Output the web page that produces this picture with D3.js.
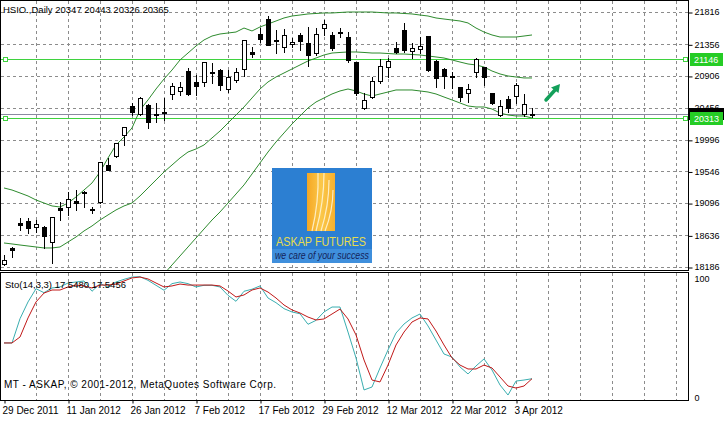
<!DOCTYPE html>
<html><head><meta charset="utf-8">
<script src="https://cdn.jsdelivr.net/npm/d3@7"></script>
<style>
body{margin:0;background:#fff}
svg{display:block}
text{font-family:"Liberation Sans",Arial,sans-serif}
</style></head>
<body><svg id="c" width="726" height="422"></svg>
<script>
// ---------- data ----------
const symbolTitle = "HSIO.,Daily  20347 20443 20326 20365";
const dateLabels = ["29 Dec 2011","11 Jan 2012","26 Jan 2012","7 Feb 2012","17 Feb 2012","29 Feb 2012","12 Mar 2012","22 Mar 2012","3 Apr 2012"];
const dateLabelBars = [0,8,16,24,32,40,48,56,64];
const priceTicks = [21816,21356,20906,20456,19996,19546,19096,18636,18186];
const openP = [18229,18457,18813,18841,18756,18756,18542,19026,19040,19126,19254,19012,19112,19638,19766,20065,20478,20364,20492,20364,20393,20649,20692,20976,20820,20820,20962,20990,20720,20848,21005,21247,21503,21716,21418,21318,21361,21489,21375,21232,21588,21489,21531,21460,21104,20450,20606,20834,21033,21304,21560,21261,21289,21474,21119,21005,20905,20749,20663,20962,21033,20663,20350,20578,20620,20364,20347];
const highP = [18357,18471,18884,18884,18855,18770,18898,19112,19254,19282,19268,19040,19681,19738,19951,20179,20521,20606,20507,20521,20592,20805,20820,21019,20919,21104,21090,21000,20990,21019,21418,21318,21588,21759,21560,21574,21446,21517,21603,21588,21702,21531,21588,21531,21110,20663,20891,21147,21161,21389,21660,21375,21460,21480,21133,21019,20962,20755,20791,21161,21040,20670,20564,20620,20805,20649,20443];
const lowP = [18215,18329,18713,18670,18685,18457,18243,18855,18927,18998,19040,18955,19100,19567,19752,19923,20350,20350,20165,20250,20279,20578,20635,20635,20635,20763,20805,20706,20677,20820,20905,21176,21389,21346,21232,21247,21318,21275,21047,21204,21489,21275,21460,21104,20635,20440,20592,20805,20891,21232,21247,21161,21232,20976,20749,20734,20734,20549,20535,20891,20777,20510,20336,20393,20521,20336,20326];
const closeP = [18286,18428,18784,18741,18798,18628,18898,18998,19154,19097,19240,18998,19681,19567,19951,20179,20393,20592,20250,20350,20378,20763,20749,20649,20763,21104,20948,20777,20891,20962,21418,21218,21432,21346,21403,21489,21389,21403,21204,21503,21645,21304,21517,21133,20663,20564,20834,21047,21119,21247,21275,21304,21332,20990,20877,20905,20891,20606,20720,21147,20891,20521,20478,20450,20777,20507,20365];
const bbUpper = [19311,19282,19240,19197,19140,19097,19055,19040,19097,19183,19282,19382,19539,19738,19923,20037,20165,20421,20564,20720,20862,20990,21133,21232,21332,21418,21474,21503,21517,21531,21588,21546,21603,21645,21688,21731,21759,21773,21788,21795,21802,21802,21809,21816,21816,21816,21816,21809,21802,21802,21795,21788,21773,21759,21731,21716,21702,21688,21660,21588,21531,21489,21460,21460,21460,21474,21489];
const bbMiddle = [18528,18514,18499,18485,18471,18457,18457,18471,18542,18613,18699,18770,18855,18927,18998,19055,19097,19197,19311,19425,19539,19638,19738,19823,19866,19923,20023,20122,20236,20350,20464,20592,20720,20820,20891,20948,21005,21062,21119,21161,21204,21232,21240,21247,21247,21240,21232,21232,21225,21218,21218,21211,21204,21190,21176,21161,21133,21104,21076,21062,21033,20976,20934,20905,20891,20877,20877];
const bbLower = [17745,17745,17759,17773,17802,17816,17859,17887,17944,17973,18001,18015,18015,18001,17987,17973,17959,17944,17973,18015,18087,18215,18343,18471,18599,18727,18855,18969,19097,19225,19354,19510,19667,19823,19966,20094,20222,20336,20450,20535,20592,20649,20692,20720,20692,20649,20620,20649,20677,20706,20706,20706,20692,20677,20649,20606,20564,20521,20478,20464,20464,20435,20378,20350,20336,20336,20307];
const stochMain = [45.7,45.7,64.8,78,88.4,85.3,89,89.8,92.9,93.7,94.5,86.4,92.4,89.8,93.7,95.8,97.6,97.9,95,91.1,87.2,92.4,93.7,92.4,89.8,91.1,91.1,89.8,83.2,78.5,86.4,88,90.6,81.1,77.4,72.7,70.1,68.7,60.4,63.5,70.1,74,74,54.3,33.9,8.7,11,26,40.2,53.5,60.6,65.4,68.5,59.1,48,37,34.6,26.8,21.3,27.6,33.1,24.4,12.6,4.7,15.7,16.5,17.548];
const stochSignal = [45.7,45.7,50.4,65.4,78,85,87.4,87.4,89.8,91.3,90.6,89,91.3,91.3,92.1,94.5,96.9,97.6,96.1,92.9,89.8,90.6,92.1,91.3,91.3,91.3,91.3,90.6,86.6,81.9,83.5,87.4,89,85.8,81.1,75.6,71.7,69.3,66.1,63.8,64.6,68.5,72.4,64.6,52,32.3,16.5,15,28.3,44.1,54.3,62.2,65.4,64.6,55.1,44.1,33.9,28.3,25.2,25.2,28.3,26,18.9,11.8,10.2,11.8,17.5456];
const stochLabel = "Sto(14,3,3) 17.5480 17.5456";
const stochTicks = [100, 0];
const hLevels = [21146, 20313];
const bidPrice = 20365;
const copyright = "MT - ASKAP, \u00A9 2001-2012, MetaQuotes Software Corp.";
const logoTitle = "ASKAP FUTURES";
const logoSlogan = "we care of your success";

// ---------- scales ----------
const n = closeP.length;
const x = d3.scaleLinear().domain([0, n - 1]).range([4, 532]);
const y = d3.scaleLinear().domain([18186, 21816]).range([267, 12]);
const ys = d3.scaleLinear().domain([0, 100]).range([401, 274]);
const R = v => Math.round(v) + 0.5;

const svg = d3.select("#c");
const AX = 688; // right axis x
const defs = svg.append("defs");
defs.append("clipPath").attr("id","cm").append("rect").attr("x",1).attr("y",1).attr("width",AX-1).attr("height",269);
defs.append("clipPath").attr("id","cs").append("rect").attr("x",1).attr("y",273).attr("width",AX-1).attr("height",127);
const grad = defs.append("linearGradient").attr("id","gold").attr("x1","0").attr("x2","1").attr("y1","0").attr("y2","0");
grad.append("stop").attr("offset","0").attr("stop-color","#f5a623");
grad.append("stop").attr("offset","0.5").attr("stop-color","#fbc84a");
grad.append("stop").attr("offset","1").attr("stop-color","#f6b02e");

const gridCol = "#8c8c8c";
// ---------- grid ----------
const main = svg.append("g").attr("clip-path","url(#cm)");
const stoch = svg.append("g").attr("clip-path","url(#cs)");
const vBars = d3.range(4, 88, 4);
main.selectAll("line.hg").data(priceTicks).join("line")
  .attr("x1",1).attr("x2",AX).attr("y1",d=>R(y(d))).attr("y2",d=>R(y(d)))
  .attr("stroke",gridCol).attr("stroke-dasharray","3,3");
main.selectAll("line.vg").data(vBars).join("line")
  .attr("x1",d=>R(x(d))).attr("x2",d=>R(x(d))).attr("y1",1).attr("y2",270)
  .attr("stroke",gridCol).attr("stroke-dasharray","3,3");
stoch.selectAll("line.vg").data(vBars).join("line")
  .attr("x1",d=>R(x(d))).attr("x2",d=>R(x(d))).attr("y1",273).attr("y2",400)
  .attr("stroke",gridCol).attr("stroke-dasharray","3,3");

// ---------- logo ----------
const logo = main.append("g");
logo.append("rect").attr("x",272).attr("y",168).attr("width",100).attr("height",95).attr("fill","#2c7fd2");
logo.append("rect").attr("x",272).attr("y",249).attr("width",100).attr("height",14).attr("fill","#3f8fdc");
logo.append("rect").attr("x",307).attr("y",173).attr("width",28).attr("height",58).attr("fill","url(#gold)");
[[312,231,318,173],[316,231,324,173],[321,231,329,180],[325,231,333,190]].forEach(s=>{
  logo.append("path").attr("d",`M${s[0]},${s[1]} Q${(s[0]+s[2])/2+4},${(s[1]+s[3])/2} ${s[2]},${s[3]}`)
    .attr("fill","none").attr("stroke","#fff6d8").attr("stroke-width",1.2).attr("opacity",0.85);
});
logo.append("text").attr("x",276).attr("y",246).attr("font-size",12).attr("fill","#e6dc4e")
  .attr("textLength",90).attr("lengthAdjust","spacingAndGlyphs").text(logoTitle);
logo.append("text").attr("x",275).attr("y",259).attr("font-size",10.5).attr("font-style","italic").attr("fill","#14235a")
  .attr("textLength",94).attr("lengthAdjust","spacingAndGlyphs").text(logoSlogan);

// ---------- horizontal level lines ----------
main.append("line").attr("x1",1).attr("x2",AX).attr("y1",R(y(bidPrice))).attr("y2",R(y(bidPrice)))
  .attr("stroke","#8a8aa0");
main.selectAll("line.lv").data(hLevels).join("line")
  .attr("x1",1).attr("x2",AX).attr("y1",d=>R(y(d))).attr("y2",d=>R(y(d)))
  .attr("stroke","#3fd23f").attr("stroke-width",1);
hLevels.forEach(v=>{
  [3,683].forEach(px=>{
    main.append("rect").attr("x",px+0.5).attr("y",Math.round(y(v))-2+0.5).attr("width",4).attr("height",4)
      .attr("fill","#fff").attr("stroke","#3fd23f");
  });
});

// ---------- Bollinger bands ----------
const line = d3.line().x((d,i)=>x(i)).y(d=>y(d));
[bbUpper,bbMiddle,bbLower].forEach(arr=>{
  main.append("path").attr("d",line(arr)).attr("fill","none").attr("stroke","#2e8b2e").attr("stroke-width",1);
});

// ---------- candles ----------
const cg = main.append("g");
d3.range(n).forEach(i=>{
  const cx = Math.round(x(i));
  cg.append("line").attr("x1",cx+0.5).attr("x2",cx+0.5)
    .attr("y1",Math.round(y(highP[i]))).attr("y2",Math.round(y(lowP[i]))+1)
    .attr("stroke","#000");
  const top = Math.round(y(Math.max(openP[i],closeP[i])));
  const bot = Math.round(y(Math.min(openP[i],closeP[i])));
  const bull = closeP[i] >= openP[i];
  if (bot - top < 1) {
    cg.append("line").attr("x1",cx-2).attr("x2",cx+3).attr("y1",top+0.5).attr("y2",top+0.5).attr("stroke","#000");
  } else {
    cg.append("rect").attr("x",cx-1.5).attr("y",top+0.5).attr("width",4).attr("height",bot-top)
      .attr("fill",bull?"#fff":"#000").attr("stroke","#000");
  }
});

// ---------- arrow ----------
main.append("line").attr("x1",546).attr("y1",100).attr("x2",555).attr("y2",90)
  .attr("stroke","#13a05a").attr("stroke-width",3.5).attr("stroke-linecap","round");
main.append("path").attr("d","M560,84 L558.5,93 L551,87.5 Z").attr("fill","#13a05a");

// ---------- stochastic ----------
const sline = d3.line().x((d,i)=>x(i)).y(d=>ys(d));
stoch.append("path").attr("d",sline(stochMain)).attr("fill","none").attr("stroke","#3aaeb0").attr("stroke-width",1);
stoch.append("path").attr("d",sline(stochSignal)).attr("fill","none").attr("stroke","#c01818").attr("stroke-width",1);

// ---------- frames ----------
svg.append("rect").attr("x",0.5).attr("y",0.5).attr("width",AX).attr("height",270).attr("fill","none").attr("stroke","#000");
svg.append("rect").attr("x",0.5).attr("y",272.5).attr("width",AX).attr("height",128).attr("fill","none").attr("stroke","#000");

// ---------- right axis (price) ----------
const pAxis = svg.append("g").attr("transform",`translate(${AX+0.5},0)`)
  .call(d3.axisRight(y).tickValues(priceTicks).tickSize(4).tickPadding(2).tickFormat(d3.format("d")));
pAxis.select(".domain").remove();
pAxis.selectAll("line").attr("transform","translate(0,0.5)");
pAxis.selectAll("text").attr("font-size",9).attr("font-family","Liberation Sans").attr("fill","#000");

// price labels on axis
const bidY = Math.round(y(bidPrice));
svg.append("rect").attr("x",AX+1).attr("y",bidY-6).attr("width",35).attr("height",12).attr("fill","#000");
hLevels.forEach(v=>{
  const yy = Math.round(y(v));
  svg.append("rect").attr("x",AX+2).attr("y",yy-6).attr("width",33).attr("height",13).attr("fill","#25cc25");
  svg.append("text").attr("x",AX+6).attr("y",yy+4).attr("font-size",9).attr("fill","#fff").text(v);
});

// ---------- stochastic axis ----------
const sAxis = svg.append("g").attr("transform",`translate(${AX+0.5},0)`)
  .call(d3.axisRight(ys).tickValues(stochTicks).tickSize(0).tickPadding(6));
sAxis.select(".domain").remove();
sAxis.selectAll("text").attr("font-size",9).attr("font-family","Liberation Sans").attr("fill","#000")
  .attr("dy",d=>d===100?"0.85em":"-0.1em");

// ---------- bottom axis (dates) ----------
const dAxis = svg.append("g").attr("transform","translate(0,400.5)")
  .call(d3.axisBottom(x).tickValues(dateLabelBars).tickSize(3).tickPadding(3).tickFormat((d,i)=>dateLabels[i]));
dAxis.select(".domain").remove();
dAxis.selectAll("line").attr("transform","translate(0.5,0)");
dAxis.selectAll("text").attr("text-anchor","start").attr("dx",-2).attr("font-size",10)
  .attr("font-family","Liberation Sans").attr("fill","#000");

// ---------- texts ----------
svg.append("text").attr("x",3).attr("y",13).attr("font-size",9.5).attr("fill","#000").text(symbolTitle);
svg.append("text").attr("x",5).attr("y",288).attr("font-size",9.5).attr("fill","#000").text(stochLabel);
svg.append("text").attr("x",4).attr("y",388).attr("font-size",10).attr("fill","#000")
  .attr("textLength",272).attr("lengthAdjust","spacing").text(copyright);
</script>
</body></html>
